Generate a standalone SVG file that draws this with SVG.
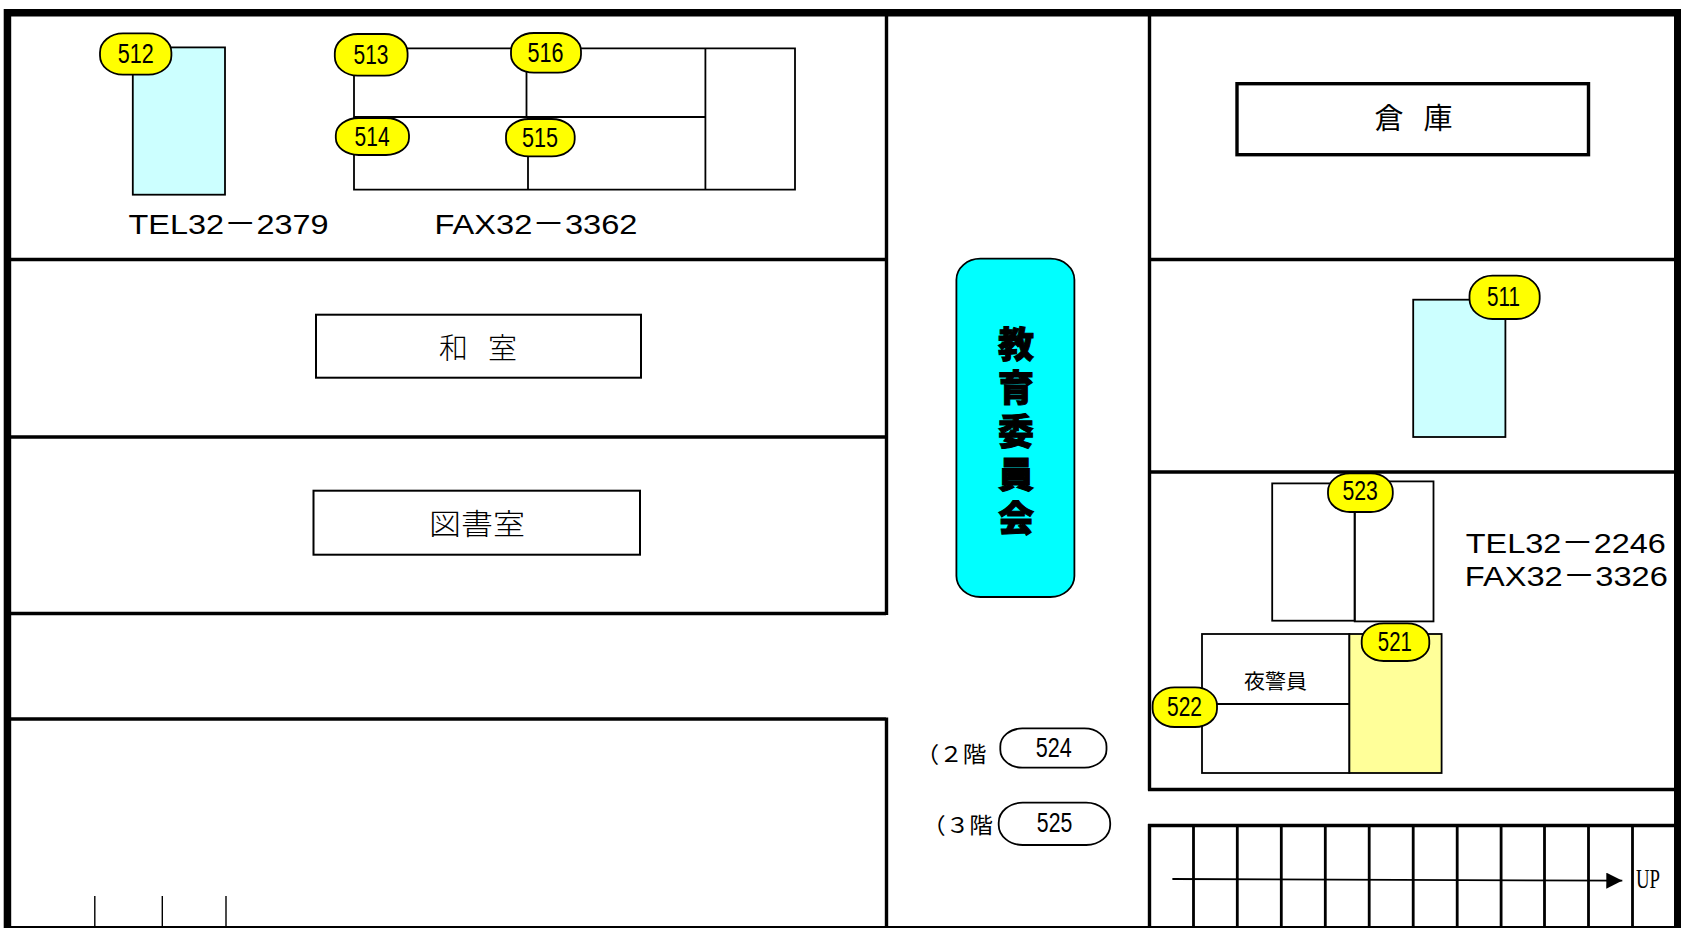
<svg xmlns="http://www.w3.org/2000/svg" width="1681" height="928" viewBox="0 0 1681 928">
<style>
text{font-family:"Liberation Sans","Noto Sans CJK JP",sans-serif;fill:#000}
.wall{fill:none;stroke:#000;stroke-width:3.400}
.thin{fill:none;stroke:#000;stroke-width:1.800}
.desk{fill:#CCFFFF;stroke:#000;stroke-width:1.800}
.pill{fill:#FFFF00;stroke:#000;stroke-width:1.800}
.pw{fill:#fff;stroke:#000;stroke-width:1.800}
.n{font-size:28px}
.tel{font-size:28px}
.room{font-family:"Noto Sans CJK JP",sans-serif;font-size:29px;font-weight:300}
.big{font-family:"Noto Sans CJK JP",sans-serif;font-size:36px;font-weight:900;stroke:#000;stroke-width:1}
.fl{font-family:"Noto Sans CJK JP",sans-serif;font-size:22px}
</style>
<defs><marker id="ah" markerUnits="userSpaceOnUse" markerWidth="16" markerHeight="16" refX="16" refY="8" orient="auto"><path d="M0 0L16 8L0 16Z" fill="#000"/></marker></defs>
<rect width="1681" height="928" fill="#fff"/>
<path id="frame" d="M3.700 9H1681V16.500H11.200V926H1674V16.500H1681V928H3.700Z" fill="#000"/>
<g id="walls" transform="translate(0,1)">
<path class="wall" d="M11 258.500H886M11 436H886M11 612.500H886M11 718H886M886.500 15V614M886.500 716.500V925"/>
<path class="wall" d="M1149.500 15V789.500M1149 258.500H1674M1149 471H1674M1148 788.500H1674M1148 824.500H1674M1149.500 823V925"/>
<path class="wall" d="M1193.500 824V925M1237.300 824V925M1281.300 824V925M1325.300 824V925M1369.200 824V925M1413.200 824V925M1457.200 824V925M1501.100 824V925M1544.500 824V925M1588.500 824V925M1632.500 824V925" style="stroke-width:2.800"/>
<path class="thin" d="M94.800 895V925M162.300 895V925M226 895V925" style="stroke-width:1.400"/>
</g>
<g id="connectors" transform="translate(0,0.700)">
<path d="M1172.400 878.300L1622.300 880" fill="none" stroke="#000" stroke-width="1.800" marker-end="url(#ah)"/>
</g>
<g transform="translate(0,0.700)">
<text x="1636" y="887" font-size="27" textLength="24" lengthAdjust="spacingAndGlyphs" style="font-family:'Liberation Serif',serif">UP</text>
<g id="node-512"><rect class="desk" x="132.800" y="46.700" width="92.200" height="147.300"/><rect class="pill" x="100" y="32.700" width="71.400" height="41.300" rx="23" ry="19"/><text class="n" x="117.800" y="62.300" textLength="36" lengthAdjust="spacingAndGlyphs">512</text></g>
<g id="office-lines"><path class="thin" d="M354 47.700H795V189H354ZM705.400 47.700V189M354 116.300H705.400M526.500 47.700V116.300M528 116.300V189"/></g>
<g id="node-513"><rect class="pill" x="334.800" y="33.300" width="72.800" height="41.700" rx="23" ry="19"/><text class="n" x="353.500" y="63.300" textLength="35" lengthAdjust="spacingAndGlyphs">513</text></g>
<g id="node-516"><rect class="pill" x="511" y="32.300" width="70" height="39.700" rx="23" ry="18"/><text class="n" x="527.600" y="61" textLength="36" lengthAdjust="spacingAndGlyphs">516</text></g>
<g id="node-514"><rect class="pill" x="335.800" y="117.300" width="73.200" height="37" rx="23" ry="17"/><text class="n" x="354.600" y="145" textLength="35" lengthAdjust="spacingAndGlyphs">514</text></g>
<g id="node-515"><rect class="pill" x="506" y="118.300" width="68.700" height="37.400" rx="23" ry="17"/><text class="n" x="522" y="146" textLength="36" lengthAdjust="spacingAndGlyphs">515</text></g>
<text class="tel" x="128.500" y="233" textLength="200" lengthAdjust="spacingAndGlyphs">TEL32－2379</text>
<text class="tel" x="434.500" y="233" textLength="203" lengthAdjust="spacingAndGlyphs">FAX32－3362</text>
<g id="room-washitsu"><rect class="wall" style="stroke-width:2" x="316" y="314" width="325" height="63"/><text class="room" x="439" y="358">和</text><text class="room" x="488" y="358">室</text></g>
<g id="room-library"><rect class="wall" style="stroke-width:2" x="313.500" y="490" width="326.500" height="64"/><text class="room" x="429" y="534" textLength="96" lengthAdjust="spacingAndGlyphs">図書室</text></g>
<g id="room-storage"><rect class="wall" x="1237" y="83" width="351.500" height="71"/><text class="room" x="1374.500" y="128" style="font-weight:400">倉</text><text class="room" x="1423.500" y="128" style="font-weight:400">庫</text></g>
<g id="title"><rect x="956.400" y="258" width="118" height="338.300" rx="24" ry="21" fill="#00FFFF" stroke="#000" stroke-width="1.800"/>
<text class="big" x="998 998 998 998 998" y="357.500 400 444 487.500 531.500" style="letter-spacing:0">教育委員会</text></g>
<g id="node-511"><rect class="desk" x="1413.200" y="299" width="92.200" height="137.300"/><rect class="pill" x="1469.500" y="275" width="70.200" height="43.300" rx="23" ry="20"/><text class="n" x="1487" y="305.700" textLength="33" lengthAdjust="spacingAndGlyphs">511</text></g>
<g id="node-523"><rect class="thin" x="1272.200" y="482.700" width="82.500" height="137.300"/><rect class="thin" x="1354.700" y="480.700" width="78.800" height="140"/><rect class="pill" x="1328" y="472.700" width="64.800" height="38.600" rx="22" ry="18"/><text class="n" x="1342.400" y="499.700" textLength="35.400" lengthAdjust="spacingAndGlyphs">523</text></g>
<text class="tel" x="1465.800" y="552.300" textLength="200" lengthAdjust="spacingAndGlyphs">TEL32－2246</text>
<text class="tel" x="1464.800" y="585.700" textLength="203" lengthAdjust="spacingAndGlyphs">FAX32－3326</text>
<g id="node-521"><rect class="thin" x="1202" y="633.300" width="147.400" height="139"/><path class="thin" d="M1202 703.300H1349.400"/><rect x="1349.400" y="633.300" width="92.200" height="139" fill="#FFFF99" stroke="#000" stroke-width="1.800"/><text x="1244" y="688.500" font-size="20" textLength="63" lengthAdjust="spacingAndGlyphs" style="font-family:'Noto Sans CJK JP',sans-serif">夜警員</text><rect class="pill" x="1361.700" y="622.700" width="67.600" height="37.600" rx="22" ry="17"/><text class="n" x="1377.800" y="650" textLength="34" lengthAdjust="spacingAndGlyphs">521</text></g>
<g id="node-522"><rect class="pill" x="1152.600" y="686.700" width="64.400" height="39.600" rx="22" ry="18"/><text class="n" x="1167" y="715" textLength="35" lengthAdjust="spacingAndGlyphs">522</text></g>
<g id="node-524"><text class="fl" x="915.500" y="761" textLength="71" lengthAdjust="spacingAndGlyphs">（２階</text><rect class="pw" x="1000.300" y="727.700" width="106.200" height="39.300" rx="22" ry="18"/><text class="n" x="1035.700" y="756.300" textLength="36" lengthAdjust="spacingAndGlyphs">524</text></g>
<g id="node-525"><text class="fl" x="922" y="832" textLength="71" lengthAdjust="spacingAndGlyphs">（３階</text><rect class="pw" x="998.700" y="802" width="111.500" height="42.300" rx="24" ry="20"/><text class="n" x="1036.800" y="831.700" textLength="35.500" lengthAdjust="spacingAndGlyphs">525</text></g>
</g>
</svg>
